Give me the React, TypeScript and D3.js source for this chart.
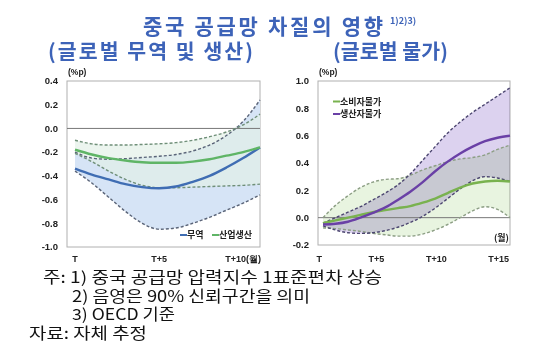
import { scaleLinear, line, area, curveMonotoneX, range } from 'd3';

// left panel: global trade & production (months T..T+11)
const leftMonths = range(0, 12);
const tradeMid = [-0.34, -0.39, -0.43, -0.47, -0.495, -0.505, -0.49, -0.45, -0.4, -0.33, -0.25, -0.16];
const tradeLow = [-0.36, -0.46, -0.58, -0.7, -0.8, -0.85, -0.84, -0.8, -0.75, -0.69, -0.63, -0.56];
const tradeHigh = [-0.2, -0.25, -0.26, -0.255, -0.245, -0.235, -0.22, -0.19, -0.14, -0.06, 0.06, 0.24];
const prodMid = [-0.18, -0.22, -0.25, -0.27, -0.285, -0.29, -0.29, -0.28, -0.26, -0.23, -0.2, -0.16];
const prodLow = [-0.21, -0.28, -0.36, -0.43, -0.48, -0.5, -0.5, -0.495, -0.49, -0.485, -0.48, -0.47];
const prodHigh = [-0.1, -0.13, -0.14, -0.14, -0.135, -0.13, -0.12, -0.1, -0.07, -0.03, 0.03, 0.12];
const leftTicks = [0.4, 0.2, 0.0, -0.2, -0.4, -0.6, -0.8, -1.0];
const leftXLabels = [[0, 'T'], [5, 'T+5'], [10, 'T+10(월)']] as const;

// right panel: global prices (months T..T+15)
const rightMonths = range(0, 16);
const ppiMid = [-0.05, -0.045, -0.03, 0.0, 0.035, 0.075, 0.13, 0.19, 0.26, 0.34, 0.41, 0.47, 0.52, 0.56, 0.585, 0.6];
const ppiHigh = [-0.04, 0.0, 0.04, 0.08, 0.13, 0.18, 0.24, 0.32, 0.42, 0.52, 0.62, 0.7, 0.77, 0.83, 0.89, 0.95];
const ppiLow = [-0.06, -0.09, -0.11, -0.115, -0.11, -0.095, -0.07, -0.035, 0.01, 0.07, 0.14, 0.21, 0.27, 0.3, 0.29, 0.265];
const cpiMid = [-0.04, -0.02, 0.0, 0.02, 0.04, 0.055, 0.07, 0.085, 0.11, 0.14, 0.18, 0.22, 0.25, 0.265, 0.27, 0.265];
const cpiHigh = [0.0, 0.09, 0.16, 0.22, 0.26, 0.28, 0.285, 0.31, 0.35, 0.38, 0.41, 0.43, 0.44, 0.46, 0.5, 0.53];
const cpiLow = [-0.075, -0.08, -0.09, -0.1, -0.115, -0.125, -0.135, -0.135, -0.12, -0.09, -0.05, 0.0, 0.05, 0.08, 0.06, 0.0];
const rightTicks = [1.0, 0.8, 0.6, 0.4, 0.2, 0.0, -0.2];
const rightXLabels = [[0, 'T'], [5, 'T+5'], [10, 'T+10'], [15, 'T+15']] as const;

const notes = ['주: 1) 중국 공급망 압력지수 1표준편차 상승', '2) 음영은 90% 신뢰구간을 의미', '3) OECD 기준', '자료: 자체 추정'];

const KR = "'Noto Sans CJK KR', 'Noto Sans', sans-serif";
const TICK = "'Liberation Sans', Arial, sans-serif";

type Band = { mid: number[]; low: number[]; high: number[]; line: string; fill: string; dash: string; op: number; blend: string };

const Panel = (props: {
  months: number[];
  x0: number; x1: number; y0: number; y1: number; lx0: number; lx1: number;
  domain: [number, number];
  ticks: number[];
  bands: Band[];
}) => {
  const { months, x0, x1, y0, y1, lx0, lx1, domain, ticks, bands } = props;
  const x = scaleLinear().domain([0, months.length - 1]).range([lx0, lx1]);
  const y = scaleLinear().domain(domain).range([y1, y0]);
  const ln = (vals: number[]) => line<number>().x((_, i) => x(i)).y((d) => y(d)).curve(curveMonotoneX)(vals) || '';
  const ar = (lo: number[], hi: number[]) =>
    area<number>().x((_, i) => x(i)).y0((_, i) => y(lo[i])).y1((d) => y(d)).curve(curveMonotoneX)(hi) || '';

  return (
    <g>
      <rect x={x0} y={y0} width={x1 - x0} height={y1 - y0} fill="#fff" stroke="#b0b0b0" strokeWidth={1} />
      {bands.map((b, i) => (
        <path key={'a' + i} d={ar(b.low, b.high)} fill={b.fill} fillOpacity={b.op} style={{ mixBlendMode: b.blend as any }} />
      ))}
      <line x1={x0} x2={x1} y1={y(0)} y2={y(0)} stroke="#777" strokeWidth={1} />
      {bands.map((b, i) => (
        <g key={'d' + i} fill="none" stroke={b.dash} strokeWidth={1.4} strokeDasharray="3,2">
          <path d={ln(b.low)} />
          <path d={ln(b.high)} />
        </g>
      ))}
      {bands.map((b, i) => (
        <path key={'m' + i} d={ln(b.mid)} fill="none" stroke={b.line} strokeWidth={2.4} />
      ))}
      {ticks.map((t) => (
        <text key={t} x={x0 - 9} y={y(t)} dy="0.35em" textAnchor="end" fontFamily={TICK} fontWeight="bold" fontSize={9.5} fill="#222">
          {t.toFixed(1)}
        </text>
      ))}
      <text x={x0 + 1} y={y0 - 6} fontFamily={TICK} fontWeight="bold" fontSize={8.5} fill="#222">(%p)</text>
    </g>
  );
};

export default function App() {
  const xl = scaleLinear().domain([0, leftMonths.length - 1]).range([75, 260]);
  const xr = scaleLinear().domain([0, rightMonths.length - 1]).range([323, 510]);
  return (
    <svg width={534} height={362} style={{ position: 'absolute', left: 0, top: 0, background: '#fff' }}>
      <g fontFamily={KR} fontWeight="bold" fill="#3d63b8">
        <text x={143} y={34} fontSize={21} textLength={240}>중국 공급망 차질의 영향</text>
        <text x={390} y={24} fontSize={9}>1)2)3)</text>
        <text x={48} y={59} fontSize={20.5} textLength={205}>(글로벌 무역 및 생산)</text>
        <text x={333} y={59} fontSize={20.5} textLength={115}>(글로벌 물가)</text>
      </g>

      <Panel
        months={leftMonths}
        x0={67} x1={260} y0={81} y1={247} lx0={75} lx1={260}
        domain={[-1.0, 0.4]}
        ticks={leftTicks}
        bands={[
          { mid: tradeMid, low: tradeLow, high: tradeHigh, line: '#3f6db3', fill: '#d6e4f6', dash: '#5a6478', op: 1, blend: 'normal' },
          { mid: prodMid, low: prodLow, high: prodHigh, line: '#5fb566', fill: '#e2f0e6', dash: '#6f8f78', op: 0.65, blend: 'normal' },
        ]}
      />
      {leftXLabels.map(([t, s]) => (
        <text key={s} x={xl(t)} y={262} textAnchor="middle" fontFamily={TICK} fontWeight="bold" fontSize={9} fill="#222">
          {s}
        </text>
      ))}
      <g fontFamily={KR} fontWeight="bold" fontSize={9} fill="#222">
        <line x1={180} x2={187} y1={235} y2={235} stroke="#3f6db3" strokeWidth={2} />
        <text x={187} y={238}>무역</text>
        <line x1={212} x2={219} y1={235} y2={235} stroke="#5fb566" strokeWidth={2} />
        <text x={219} y={238}>산업생산</text>
      </g>

      <Panel
        months={rightMonths}
        x0={318} x1={510} y0={81} y1={245} lx0={323} lx1={510}
        domain={[-0.2, 1.0]}
        ticks={rightTicks}
        bands={[
          { mid: cpiMid, low: cpiLow, high: cpiHigh, line: '#79b24f', fill: '#e8f4e0', dash: '#8c9e84', op: 1, blend: 'multiply' },
          { mid: ppiMid, low: ppiLow, high: ppiHigh, line: '#6a40a6', fill: '#dcd2ef', dash: '#4c4670', op: 1, blend: 'multiply' },
        ]}
      />
      {rightXLabels.map(([t, s]) => (
        <text key={s} x={xr(t) - 1} y={262} textAnchor="end" fontFamily={TICK} fontWeight="bold" fontSize={9} fill="#222">
          {s}
        </text>
      ))}
      <text x={509} y={241} textAnchor="end" fontFamily={KR} fontWeight="bold" fontSize={9} fill="#222">(월)</text>
      <g fontFamily={KR} fontWeight="bold" fontSize={9} fill="#222">
        <line x1={333} x2={340} y1={101.5} y2={101.5} stroke="#79b24f" strokeWidth={2} />
        <text x={340} y={104.5}>소비자물가</text>
        <line x1={333} x2={340} y1={114} y2={114} stroke="#6a40a6" strokeWidth={2} />
        <text x={340} y={117}>생산자물가</text>
      </g>

      <g fontFamily={KR} fontSize={15.5} fill="#111">
        <text x={43} y={283} textLength={339} lengthAdjust="spacingAndGlyphs">{notes[0]}</text>
        <text x={72} y={301.5} textLength={238} lengthAdjust="spacingAndGlyphs">{notes[1]}</text>
        <text x={72} y={320} textLength={103} lengthAdjust="spacingAndGlyphs">{notes[2]}</text>
        <text x={29} y={338.5} textLength={118} lengthAdjust="spacingAndGlyphs">{notes[3]}</text>
      </g>
    </svg>
  );
}
